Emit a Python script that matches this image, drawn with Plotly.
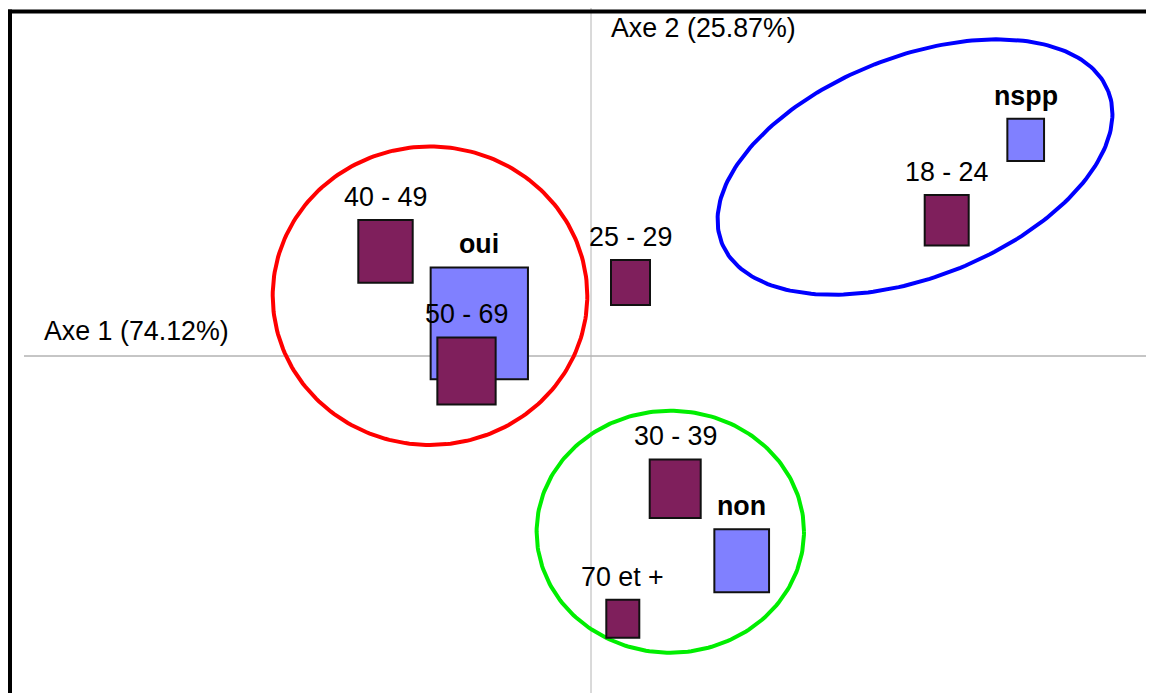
import numpy as np
import plotly.graph_objects as go

# ---- Data (factor coordinates, axis 1 / axis 2, and relative weight) ----
age_labels = ["18 - 24", "25 - 29", "30 - 39", "40 - 49", "50 - 69", "70 et +"]
age_x = [3.557, 0.395, 0.842, -2.055, -1.245, 0.318]
age_y = [1.180, 0.639, -1.154, 0.910, -0.130, -2.284]
age_w = [0.44, 0.39, 0.51, 0.544, 0.583, 0.33]

rep_labels = ["oui", "non", "nspp"]
rep_x = [-1.117, 1.507, 4.347]
rep_y = [0.284, -1.780, 1.880]
rep_w = [0.973, 0.547, 0.367]

axis1_label = "Axe 1 (74.12%)"
axis2_label = "Axe 2 (25.87%)"

# groups (ellipses): centre x, centre y, semi-axis a (px), b (px), angle (deg)
grp_cx = [-1.61, 0.793, 3.24]
grp_cy = [0.524, -1.528, 1.643]
grp_a = [157.3, 133.7, 207.6]
grp_b = [149.2, 121.0, 110.4]
grp_ang = [0.0, 0.0, 21.4]
grp_col = ["#ff0000", "#00ee00", "#0000ff"]

OFF = 8                        # page body margin
W, H = 1154 - OFF, 693 - OFF
PX_X, PX_Y = 100.0, 115.0      # pixels per data unit
X0_PX, Y0_PX = 591.0 - OFF, 356.0 - OFF    # origin position inside figure
xr = [-X0_PX / PX_X, (W - X0_PX) / PX_X]
yr = [(Y0_PX - H) / PX_Y, Y0_PX / PX_Y]

FONT = "Liberation Sans, Arial, sans-serif"
FS = 26.8

fig = go.Figure()
shapes = []
annots = []

# axis lines
shapes.append(dict(type="line", xref="x", yref="y", x0=(24 - 591) / PX_X, x1=xr[1], y0=0, y1=0,
                   line=dict(color="#8c8c8c", width=1), layer="below"))
shapes.append(dict(type="line", xref="x", yref="y", x0=0, x1=0, y0=yr[0], y1=yr[1],
                   line=dict(color="#b4b4b4", width=1), layer="below"))

# ellipses
t = np.linspace(0, 2 * np.pi, 241)
for cx, cy, a, b, ang, col in zip(grp_cx, grp_cy, grp_a, grp_b, grp_ang, grp_col):
    th = np.deg2rad(ang)
    dx = a * np.cos(t) * np.cos(th) - b * np.sin(t) * np.sin(th)
    dy = a * np.cos(t) * np.sin(th) + b * np.sin(t) * np.cos(th)
    fig.add_trace(go.Scatter(x=cx + dx / PX_X, y=cy + dy / PX_Y, mode="lines",
                             line=dict(color=col, width=4), hoverinfo="skip", showlegend=False))

def add_boxes(xs, ys, ws, labels, fill, bold):
    for x, y, w, lab in zip(xs, ys, ws, labels):
        shapes.append(dict(type="rect", xref="x", yref="y", x0=x - w / 2, x1=x + w / 2,
                           y0=y - w / 2, y1=y + w / 2, fillcolor=fill,
                           line=dict(color="#111111", width=2), layer="above"))
        annots.append(dict(x=x, y=y + w / 2, xref="x", yref="y", text=("<b>%s</b>" % lab) if bold else lab,
                           showarrow=False, yanchor="bottom", xanchor="center", yshift=6,
                           font=dict(family=FONT, size=FS, color="#000000")))

add_boxes(rep_x, rep_y, rep_w, rep_labels, "#8080ff", True)
add_boxes(age_x, age_y, age_w, age_labels, "#7f1f5c", False)

# axis titles
annots.append(dict(x=(42 - 591) / PX_X, y=0, xref="x", yref="y", text=axis1_label, showarrow=False,
                   xanchor="left", yanchor="bottom", yshift=8,
                   font=dict(family=FONT, size=FS, color="#000000")))
annots.append(dict(x=(609 - 591) / PX_X, y=yr[1], xref="x", yref="y", text=axis2_label, showarrow=False,
                   xanchor="left", yanchor="top", yshift=-3,
                   font=dict(family=FONT, size=FS, color="#000000")))

# frame (top and left)
shapes.append(dict(type="line", xref="paper", yref="paper", x0=0, x1=1, y0=1 - 3.5 / H, y1=1 - 3.5 / H,
                   line=dict(color="#000000", width=4)))
shapes.append(dict(type="line", xref="paper", yref="paper", x0=2 / W, x1=2 / W, y0=0, y1=1 - 1.5 / H,
                   line=dict(color="#000000", width=4)))

fig.update_layout(
    width=W, height=H, margin=dict(l=0, r=0, t=0, b=0),
    paper_bgcolor="white", plot_bgcolor="white",
    xaxis=dict(range=xr, visible=False, fixedrange=True),
    yaxis=dict(range=yr, visible=False, fixedrange=True),
    shapes=shapes, annotations=annots, showlegend=False,
)
fig.write_html("out.html")
